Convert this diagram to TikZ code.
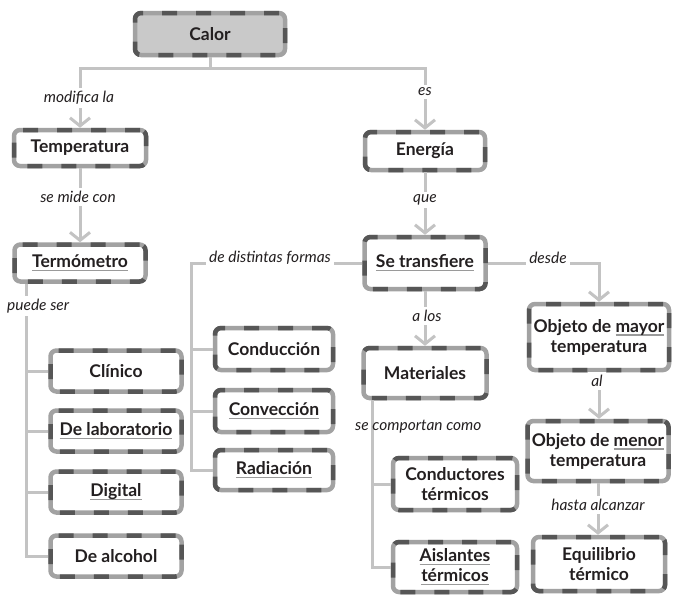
\documentclass[tikz,border=0pt]{standalone}
\usepackage{fontspec}
\setmainfont{Lato}
\usetikzlibrary{arrows.meta,calc}
\definecolor{ink}{HTML}{231F20}
\definecolor{dashdark}{HTML}{565656}
\definecolor{dashlight}{HTML}{A2A2A2}
\definecolor{wiregray}{HTML}{C3C3C3}
\definecolor{ulgray}{HTML}{9A9A9A}
\definecolor{headfill}{HTML}{C9C9C9}
% grey underline for key words
\newcommand\gul[1]{\setbox0\hbox{#1}\rlap{\color{ulgray}\rule[-3.5pt]{\wd0}{1.4pt}}\box0}
\begin{document}
\begin{tikzpicture}[x=1pt,y=-1pt,
  concept/.style 2 args={draw=dashlight, line width=4.5pt, rounded corners=6pt,
    fill=white, text=ink, font=\bfseries\fontsize{17.5}{20}\selectfont,
    align=center, inner sep=0pt, minimum width=#1pt, minimum height=#2pt,
    postaction={draw=dashdark, line width=4.5pt, dash pattern=on 15pt off 19pt}},
  wire/.style={draw=wiregray, line width=3pt},
  arrow/.style={wire, -{Straight Barb[length=8pt,width=20pt,line width=3pt]}},
  lbl/.style={fill=white, text=ink, font=\itshape\fontsize{15.5}{18}\selectfont, inner sep=3pt}]
\useasboundingbox (0,0) rectangle (675,595);

% concept boxes
\node[concept={150}{42}, fill=headfill] (calor) at (210,34) {Calor};
\node[concept={132}{36}] (temp) at (80,148) {Temperatura};
\node[concept={120}{38}] (energia) at (425,151) {Energía};
\node[concept={131}{37}] (termo) at (80,263) {\gul{Termómetro}};
\node[concept={121}{52}] (transf) at (425,263) {\gul{Se transfiere}};
\node[concept={131}{41}] (clinico) at (116,371) {Clínico};
\node[concept={131}{41}] (lab) at (116,431) {\gul{De laboratorio}};
\node[concept={131}{41}] (digital) at (116,492) {\gul{Digital}};
\node[concept={131}{41}] (alcohol) at (116,556) {De alcohol};
\node[concept={118}{42}] (conduc) at (274,349) {Conducción};
\node[concept={118}{42}] (convec) at (274,411) {\gul{Convección}};
\node[concept={118}{40}] (radiac) at (274,470) {\gul{Radiación}};
\node[concept={123}{50}] (mater) at (425,373) {Materiales};
\node[concept={140}{66}] (mayor) at (599,337) {Objeto de \gul{mayor}\\temperatura};
\node[concept={141}{60}] (menor) at (598,451) {Objeto de \gul{menor}\\temperatura};
\node[concept={132}{54}] (equil) at (599,564) {Equilibrio\\térmico};
\node[concept={124}{52}] (conduct) at (455,484) {Conductores\\térmicos};
\node[concept={124}{50}] (aisl) at (455,567) {\gul{Aislantes}\\\gul{térmicos}};

% connectors
\coordinate (split) at ($(calor.south)+(0,11)$);
\draw[wire] (calor.south) -- (split);
\draw[arrow] (split) -| (temp.north);
\draw[arrow] (split) -| (energia.north);
\draw[arrow] (temp.south) -- (termo.north);
\draw[arrow] (energia.south) -- (transf.north);

\coordinate (tbus) at ($(termo.south west)+(14,0)$);
\draw[wire] (tbus) |- (alcohol.west);
\foreach \n in {clinico,lab,digital}
  \draw[wire] (tbus |- \n.west) -- (\n.west);

\coordinate (fbus) at ($(transf.west)+(-171,0)$);
\draw[wire] (transf.west) -- (fbus) |- (radiac.west);
\foreach \n in {conduc,convec}
  \draw[wire] (fbus |- \n.west) -- (\n.west);

\coordinate (dturn) at (transf.east -| mayor.north);
\draw[arrow] (transf.east) -- (dturn) -- (mayor.north);
\draw[arrow] (transf.south) -- (mater.north);
\draw[arrow] (mayor.south) -- (mayor.south |- menor.north);
\draw[arrow] (menor.south) -- (menor.south |- equil.north);

\coordinate (mbus) at ($(mater.south west)+(11,0)$);
\draw[wire] (mbus) |- (aisl.west);
\draw[wire] (mbus |- conduct.west) -- (conduct.west);

% connector labels
\node[lbl] at (79,98) {modifica la};
\node[lbl] at (425,92) {es};
\node[lbl] at (78,197) {se mide con};
\node[lbl] at (425,200) {que};
\node[lbl, anchor=west] at (4,306) {puede ser};
\node[lbl] at (270,258) {de distintas formas};
\node[lbl] at (548,258) {desde};
\node[lbl] at (427,316) {a los};
\node[lbl] at (597,381) {al};
\node[lbl, anchor=west, fill=none] at (352,427) {se comportan como};
\node[lbl] at (598,505) {hasta alcanzar};
\end{tikzpicture}
\end{document}
